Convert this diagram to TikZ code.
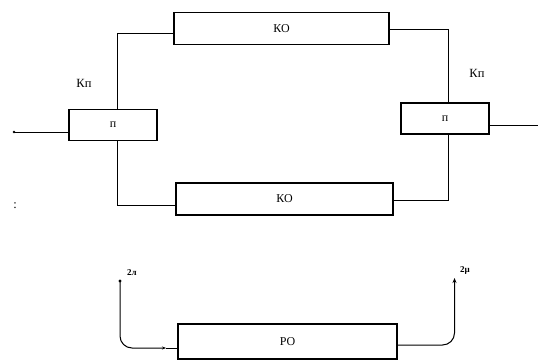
\documentclass[tikz,border=0pt]{standalone}
\usepackage{fontspec}
\setmainfont{Liberation Serif}
\usetikzlibrary{arrows.meta}
\tikzset{
  blk/.style={draw, line width=1.3pt, minimum height=#1, inner sep=0pt, font=\fontsize{12}{14}\selectfont},
  wire/.style={line width=1pt},
  lbl/.style={inner sep=0pt, font=\fontsize{12.5}{14}\selectfont},
  smalllbl/.style={inner sep=0pt, font=\fontsize{9}{10}\selectfont\bfseries},
}
\begin{document}
\begin{tikzpicture}[x=1pt,y=-1pt]
\useasboundingbox (0,0) rectangle (538,361);
% blocks
\node[blk=32pt, minimum width=215pt] (koT) at (281.5,28.5) {КО};
\node[blk=31pt, minimum width=88pt] (pL) at (113,125) {п};
\node[blk=31pt, minimum width=88pt] (pR) at (445,118.5) {п};
\node[blk=32pt, minimum width=217pt] (koB) at (284.5,199) {КО};
\node[blk=35pt, minimum width=219pt] (po) at (287.5,341.5) {РО};
% labels
\node[lbl] (km) at (84,83) {Кп};
\node[lbl] (kn) at (477,73) {Кп};
\node[lbl] (colon) at (15,206) {:};
% loop connections
\draw[wire] ([yshift=-5pt]koT.west) -| ([xshift=4pt]pL.north);
\draw[wire] ([yshift=-1.5pt]koT.east) -| ([xshift=3pt]pR.north);
\draw[wire] ([xshift=4pt]pL.south) |- ([yshift=-6.5pt]koB.west);
\draw[wire] ([xshift=3pt]pR.south) |- ([yshift=-1.5pt]koB.east);
% input/output
\coordinate (in) at (14,132);
\coordinate (out) at (538,125);
\fill (in) circle (1.4pt);
\draw[wire] (in) -- (in -| pL.west);
\draw[wire] (out -| pR.east) -- (out);
% bottom RO curves
\coordinate (l1) at (120,281);
\coordinate (l2) at (166,348);
\coordinate (r1) at (454.5,278);
\coordinate (r0) at (397,345);
\fill (l1) circle (1.7pt);
\draw[wire, -{Stealth[length=4pt,width=3pt]}, rounded corners=12pt] (l1) -- (120,348) -- (l2);
\draw[wire] (l2) -- (l2 -| po.west);
\draw[wire, -{Stealth[length=5pt,width=4pt]}, rounded corners=12pt] (r0) -- (454.5,345) -- (r1);
\node[smalllbl, anchor=west] (lab1) at (127,273) {2л};
\node[smalllbl, anchor=west] (lab2) at (460,270) {2µ};
\end{tikzpicture}
\end{document}
